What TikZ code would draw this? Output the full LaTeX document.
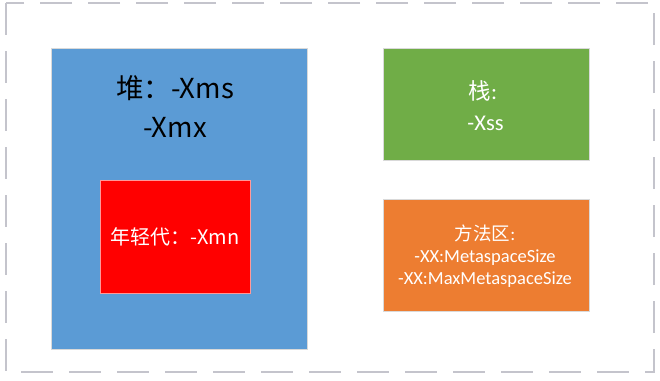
\documentclass[tikz,border=0pt]{standalone}
\usepackage{fontspec}
\setmainfont{Carlito}
\newfontfamily\cjk{Noto Sans CJK SC}
\usepackage{xcolor}
\usetikzlibrary{positioning}

\definecolor{heapblue}{HTML}{5B9BD5}
\definecolor{stackgreen}{HTML}{70AD47}
\definecolor{methodorange}{HTML}{ED7D31}
\definecolor{framegray}{RGB}{196,196,204}

\begin{document}
\begin{tikzpicture}[
    x=1pt, y=-1pt,
    area/.style={draw=white!85!black, line width=0.6pt, inner sep=0pt, align=center},
    txt/.style={align=center, inner sep=0pt},
    frame/.style={draw=framegray, line width=1.8pt, dash pattern=on 32pt off 16pt}
]
\useasboundingbox (0,0) rectangle (660,380);

% outer dashed frame
\draw[frame] (6,3) rectangle (654,372);

% heap with young generation inside
\node[area, fill=heapblue, minimum width=256pt, minimum height=301pt] (heap) at (179,198.5) {};
\node[txt, font=\cjk\fontsize{27.5}{39}\selectfont, text=black] (heaptext) at (175,107) {堆：-Xms\\-Xmx};
\node[area, fill=red, draw=red!40!white, minimum width=150pt, minimum height=113pt,
      font=\cjk\fontsize{20}{22}\selectfont, text=white] (young) at (175,237) {年轻代：-Xmn};

% stack and method area
\node[area, fill=stackgreen, minimum width=206pt, minimum height=112pt] (stack) at (486,104) {};
\node[txt, font=\fontsize{22.5}{31}\selectfont, text=white] (stacktext) at (483,106) {{\cjk 栈}:\\\ -Xss};
\node[area, fill=methodorange, minimum width=206pt, minimum height=112pt] (method) at (486,255) {};
\node[txt, font=\fontsize{18.5}{22}\selectfont, text=white] (methodtext) at (485,256)
    {{\cjk 方法区}:\\-XX:MetaspaceSize\\-XX:MaxMetaspaceSize};
\end{tikzpicture}
\end{document}
